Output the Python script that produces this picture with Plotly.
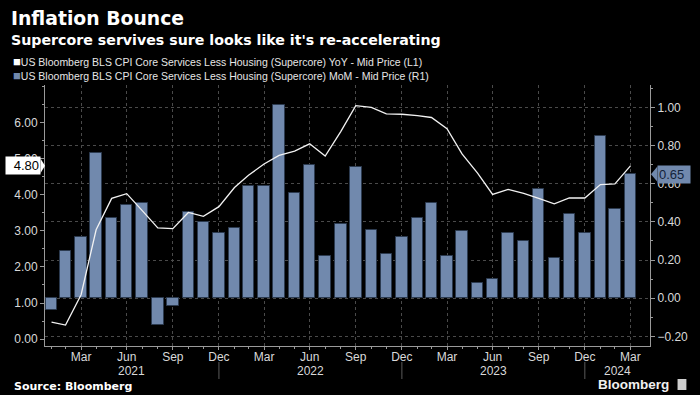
import pandas as pd
import plotly.graph_objects as go

# ---------------- data ----------------
months = pd.date_range("2021-01-31", periods=39, freq="ME")

yoy = [0.47, 0.39, 1.23, 3.03, 3.90, 4.03, 3.56, 3.08, 3.06, 3.51, 3.40, 3.67,
       4.20, 4.54, 4.85, 5.09, 5.21, 5.41, 5.07, 5.75, 6.47, 6.42, 6.24, 6.23,
       6.19, 6.14, 5.83, 5.13, 4.60, 4.01, 4.15, 4.04, 3.90, 3.75, 3.91, 3.91,
       4.28, 4.30, 4.80]

mom = [-0.06, 0.25, 0.32, 0.76, 0.42, 0.49, 0.50, -0.14, -0.04, 0.45, 0.40, 0.34,
       0.37, 0.59, 0.59, 1.01, 0.55, 0.70, 0.22, 0.39, 0.69, 0.36, 0.23, 0.32,
       0.42, 0.50, 0.22, 0.35, 0.08, 0.10, 0.34, 0.30, 0.57, 0.21, 0.44, 0.34,
       0.85, 0.47, 0.65]

yoy_name = "US Bloomberg BLS CPI Core Services Less Housing (Supercore) YoY - Mid Price (L1)"
mom_name = "US Bloomberg BLS CPI Core Services Less Housing (Supercore) MoM - Mid Price (R1)"
title = "Inflation Bounce"
subtitle = "Supercore servives sure looks like it's re-accelerating"
years = [2021, 2022, 2023, 2024]

# ---------------- style ----------------
BG = "#000000"
BAR = "#7189ad"
BAR_EDGE = "#2c3b50"
LINE = "#f2f2f2"
TXT = "#d9d9d9"
AXIS = "#9a9a9a"
GRID = "#4a4a4a"
FONT = "Liberation Sans"
BOLD = "DejaVu Sans"

W, H = 700, 395
L, R, T, B = 45, 40, 85, 49
PW, PH = W - L - R, H - T - B


def px_x(px):
    return (px - L) / PW


def px_y(py):
    return (H - B - py) / PH


x_range = [pd.Timestamp("2021-01-18"), pd.Timestamp("2024-05-09")]

fig = go.Figure()
fig.add_trace(go.Bar(
    x=months, y=mom, name=mom_name, yaxis="y",
    marker=dict(color=BAR, line=dict(color=BAR_EDGE, width=1)),
    width=23 * 86400000, showlegend=False, hoverinfo="skip"))
fig.add_trace(go.Scatter(
    x=months, y=yoy, name=yoy_name, yaxis="y2", mode="lines",
    line=dict(color=LINE, width=1.3), showlegend=False, hoverinfo="skip"))

tick_dates = [d for d in months if d.month in (3, 6, 9, 12)]
tick_text = [d.strftime("%b") for d in tick_dates]

fig.update_layout(
    width=W, height=H,
    margin=dict(l=L, r=R, t=T, b=B),
    paper_bgcolor=BG, plot_bgcolor=BG,
    font=dict(family=FONT, color=TXT, size=12),
    bargap=0,
    xaxis=dict(
        type="date", range=x_range,
        tickmode="array", tickvals=tick_dates, ticktext=tick_text,
        ticks="outside", ticklen=3, tickcolor=AXIS, ticklabelstandoff=-3,
        showline=True, linecolor=AXIS, linewidth=1,
        showgrid=True, gridcolor=GRID, griddash="dot", gridwidth=1,
        minor=dict(tickmode="array", tickvals=list(months), ticklen=2,
                   tickcolor=AXIS, showgrid=False),
        tickfont=dict(size=12, color=TXT), zeroline=False,
    ),
    yaxis=dict(
        side="right", range=[-0.25, 1.117],
        tickmode="array", tickvals=[-0.2, 0, 0.2, 0.4, 0.6, 0.8, 1.0],
        tickformat=".2f",
        ticks="outside", ticklen=4, tickcolor=AXIS,
        showline=True, linecolor=AXIS, linewidth=1,
        showgrid=True, gridcolor=GRID, griddash="dot", gridwidth=1,
        minor=dict(dtick=0.1, tick0=0, ticklen=2, tickcolor=AXIS, showgrid=False),
        zeroline=False, tickfont=dict(size=12, color=TXT),
    ),
    yaxis2=dict(
        side="left", overlaying="y", range=[-0.19, 7.04],
        tickmode="array", tickvals=[0, 1, 2, 3, 4, 5, 6],
        tickformat=".2f",
        ticks="outside", ticklen=4, tickcolor=AXIS,
        showline=True, linecolor=AXIS, linewidth=1,
        showgrid=False,
        minor=dict(dtick=0.5, tick0=0, ticklen=2, tickcolor=AXIS, showgrid=False),
        zeroline=False, tickfont=dict(size=12, color=TXT),
    ),
)

ann = []
# title block
ann.append(dict(text="<b>" + title + "</b>", x=px_x(8), y=px_y(18), xref="paper", yref="paper",
                xanchor="left", yanchor="middle", showarrow=False,
                font=dict(family=BOLD, size=18.8, color="#ffffff")))
ann.append(dict(text="<b>" + subtitle + "</b>", x=px_x(8), y=px_y(40), xref="paper", yref="paper",
                xanchor="left", yanchor="middle", showarrow=False,
                font=dict(family=BOLD, size=14.2, color="#ffffff")))
# legend
for i, (nm, col) in enumerate([(yoy_name, "#ffffff"), (mom_name, BAR)]):
    ann.append(dict(text=f"<span style='color:{col};font-size:13px'>■</span>" + nm,
                    x=px_x(10), y=px_y(62 + 14 * i), xref="paper", yref="paper",
                    xanchor="left", yanchor="middle", showarrow=False,
                    font=dict(family=FONT, size=10.5, color="#e6e6e6")))
# year labels centred on the visible part of each year
shapes = []
for yr in years:
    a = max(pd.Timestamp(f"{yr - 1}-12-31"), x_range[0])
    b = min(pd.Timestamp(f"{yr}-12-31"), x_range[1])
    mid = a + (b - a) / 2
    ann.append(dict(text=str(yr), x=mid, y=px_y(371), xref="x", yref="paper",
                    xanchor="center", yanchor="middle", showarrow=False,
                    font=dict(family=FONT, size=12, color=TXT)))
    if yr > years[0]:
        shapes.append(dict(type="line", xref="x", yref="paper",
                           x0=a, x1=a, y0=px_y(362), y1=px_y(379),
                           line=dict(color="#5a5a5a", width=1)))
# footer
ann.append(dict(text="<b>Source: Bloomberg</b>", x=px_x(11), y=px_y(386), xref="paper", yref="paper",
                xanchor="left", yanchor="middle", showarrow=False,
                font=dict(family=BOLD, size=11, color="#ffffff")))
ann.append(dict(text="<b>Bloomberg</b>", x=px_x(681), y=px_y(384), xref="paper", yref="paper",
                xanchor="right", yanchor="middle", showarrow=False,
                font=dict(family=FONT, size=13.5, color="#f0f0f0")))
shapes.append(dict(type="rect", xref="paper", yref="paper",
                   x0=px_x(688), x1=px_x(697), y0=px_y(390), y1=px_y(379),
                   fillcolor="#cfcfcf", line=dict(width=0)))

# last value labels
last_yoy = yoy[-1]
last_mom = mom[-1]
ann.append(dict(text=f"{last_yoy:.2f}", x=px_x(41), y=last_yoy, xref="paper", yref="y2",
                xanchor="right", yanchor="middle", showarrow=False,
                bgcolor="#ffffff", borderpad=1, width=32, align="right",
                font=dict(family=FONT, size=13, color="#000000")))
shapes.append(dict(type="path", xref="paper", yref="y2",
                   path=f"M {px_x(40.5)},{last_yoy + 0.2} L {px_x(45)},{last_yoy} L {px_x(40.5)},{last_yoy - 0.2} Z",
                   fillcolor="#ffffff", line=dict(width=0)))
ann.append(dict(text=f"{last_mom:.2f}", x=px_x(667), y=last_mom, xref="paper", yref="y",
                xanchor="left", yanchor="middle", showarrow=False,
                bgcolor=BAR, borderpad=1, width=30, align="left",
                font=dict(family=FONT, size=13, color="#13233a")))
shapes.append(dict(type="path", xref="paper", yref="y",
                   path=f"M {px_x(667.5)},{last_mom + 0.04} L {px_x(661)},{last_mom} L {px_x(667.5)},{last_mom - 0.04} Z",
                   fillcolor=BAR, line=dict(width=0)))

fig.update_layout(annotations=ann, shapes=shapes)
fig.write_html("out.html",
               config={"displayModeBar": False},
               post_script="document.body.style.margin='0';document.body.style.overflow='hidden';")
